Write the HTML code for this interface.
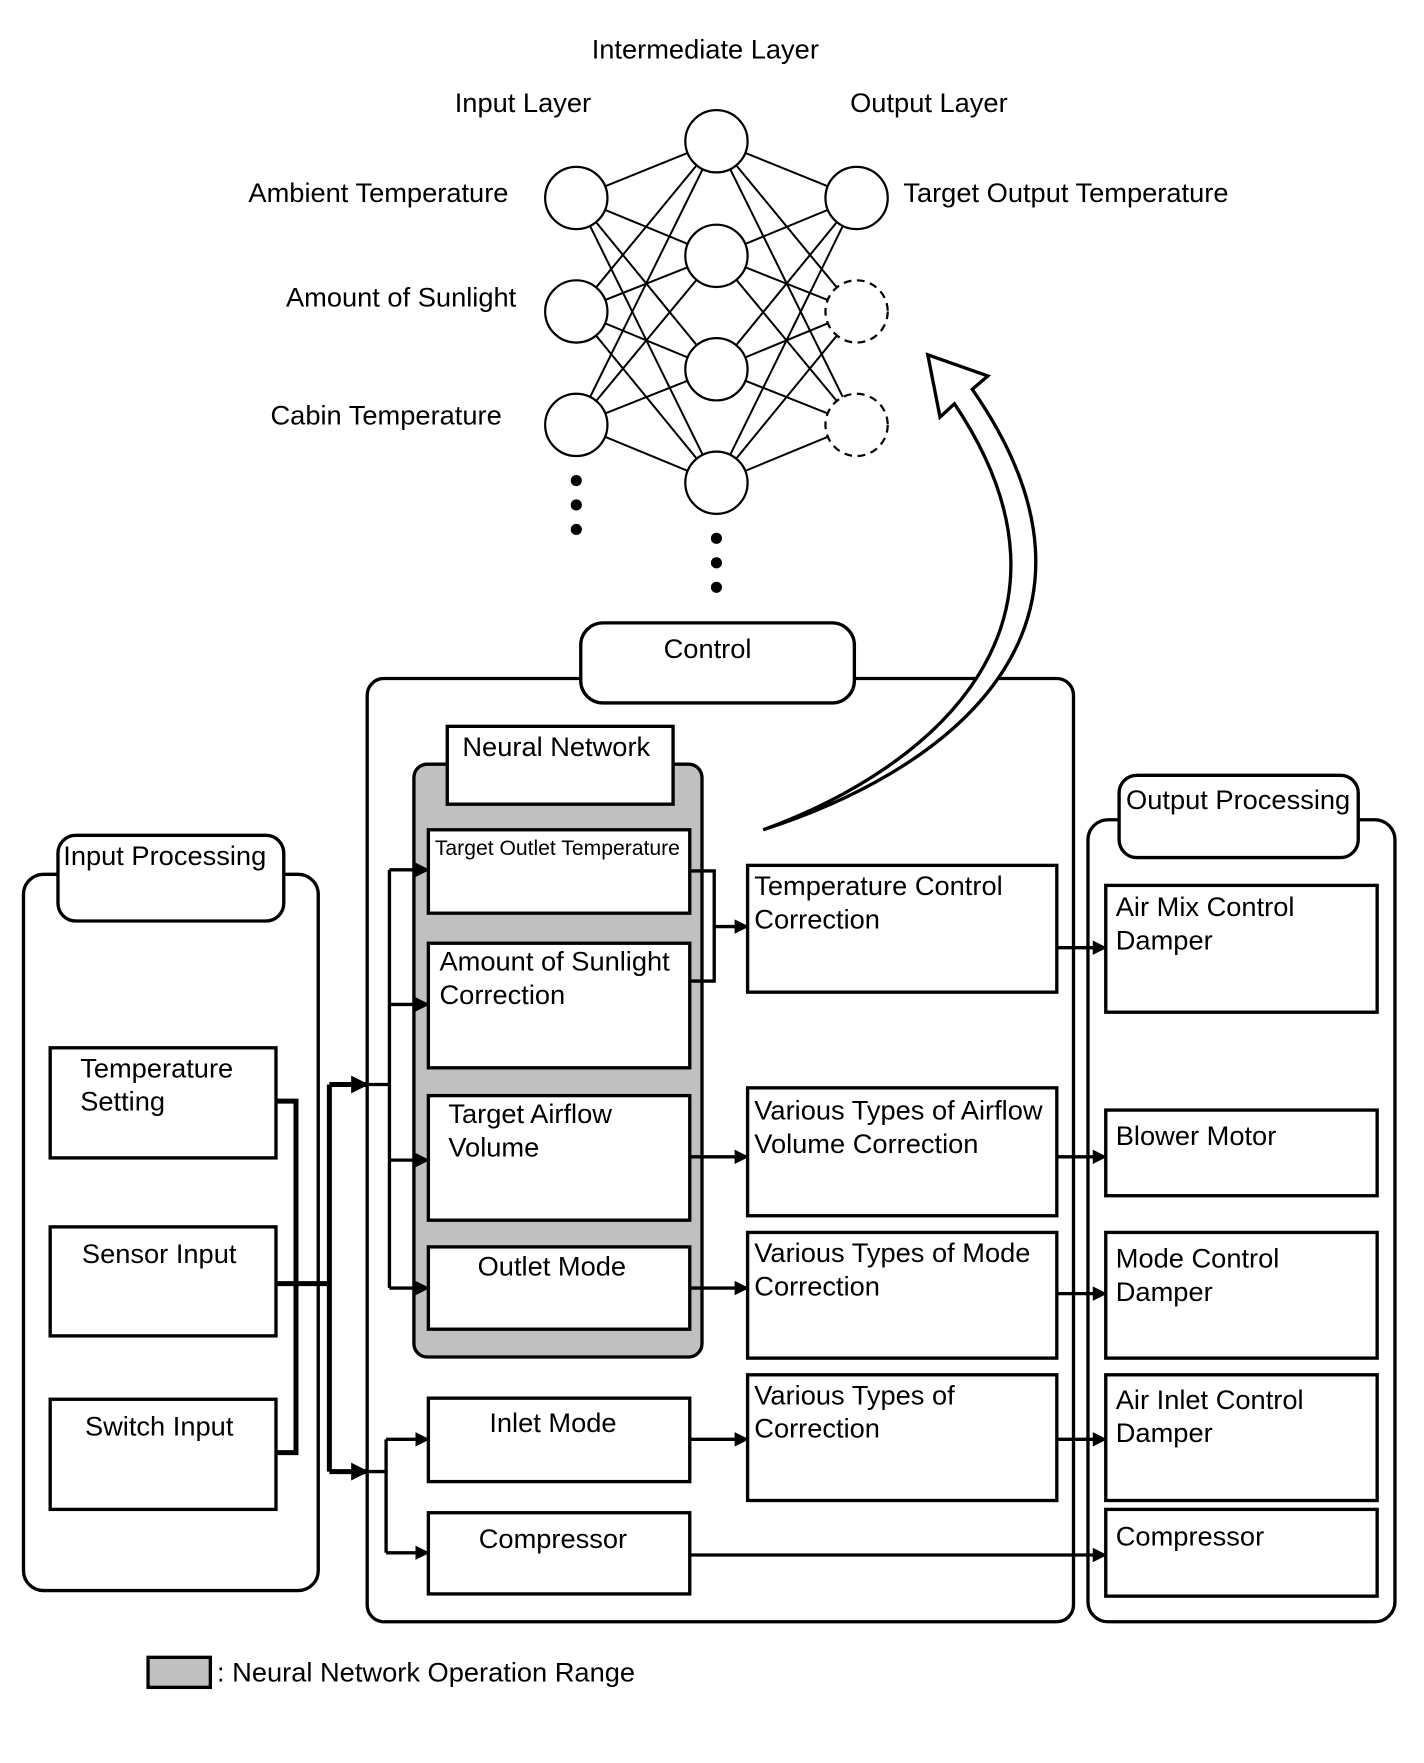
<!DOCTYPE html>
<html><head><meta charset="utf-8"><style>
html,body{margin:0;padding:0;background:#fff;}
svg{display:block;}
text{font-family:"Liberation Sans",Arial,sans-serif;font-size:24.5px;fill:#000;dominant-baseline:central;}
.b{fill:#fff;stroke:#000;stroke-width:3;}
.l{stroke:#000;stroke-width:3;fill:none;}
.t{stroke:#000;stroke-width:4.5;fill:none;}
.n{stroke:#000;stroke-width:1.8;}
</style></head><body>
<svg width="1424" height="1763" viewBox="0 0 1280 1585" xmlns="http://www.w3.org/2000/svg">
<defs>
<marker id="A" viewBox="0 0 10 10" markerWidth="16" markerHeight="16" refX="9" refY="5" orient="auto" markerUnits="userSpaceOnUse"><path d="M0,0 L10,5 L0,10 Z" fill="#000"/></marker>
<marker id="m" viewBox="0 0 10 10" markerWidth="13" markerHeight="13" refX="9" refY="5" orient="auto" markerUnits="userSpaceOnUse"><path d="M0,0 L10,5 L0,10 Z" fill="#000"/></marker>
</defs>

<g class="n">
<line x1="518" y1="178" x2="644" y2="127"/><line x1="518" y1="178" x2="644" y2="230"/><line x1="518" y1="178" x2="644" y2="332"/><line x1="518" y1="178" x2="644" y2="434"/>
<line x1="518" y1="280" x2="644" y2="127"/><line x1="518" y1="280" x2="644" y2="230"/><line x1="518" y1="280" x2="644" y2="332"/><line x1="518" y1="280" x2="644" y2="434"/>
<line x1="518" y1="382" x2="644" y2="127"/><line x1="518" y1="382" x2="644" y2="230"/><line x1="518" y1="382" x2="644" y2="332"/><line x1="518" y1="382" x2="644" y2="434"/>
<line x1="644" y1="127" x2="770" y2="178"/><line x1="644" y1="127" x2="770" y2="280"/><line x1="644" y1="127" x2="770" y2="382"/>
<line x1="644" y1="230" x2="770" y2="178"/><line x1="644" y1="230" x2="770" y2="280"/><line x1="644" y1="230" x2="770" y2="382"/>
<line x1="644" y1="332" x2="770" y2="178"/><line x1="644" y1="332" x2="770" y2="280"/><line x1="644" y1="332" x2="770" y2="382"/>
<line x1="644" y1="434" x2="770" y2="178"/><line x1="644" y1="434" x2="770" y2="280"/><line x1="644" y1="434" x2="770" y2="382"/>
</g>
<g fill="#fff" stroke="#000" stroke-width="2">
<circle cx="518" cy="178" r="28"/><circle cx="518" cy="280" r="28"/><circle cx="518" cy="382" r="28"/>
<circle cx="644" cy="127" r="28"/><circle cx="644" cy="230" r="28"/><circle cx="644" cy="332" r="28"/><circle cx="644" cy="434" r="28"/>
<circle cx="770" cy="178" r="28"/>
<circle cx="770" cy="280" r="28" stroke-dasharray="7,5"/><circle cx="770" cy="382" r="28" stroke-dasharray="7,5"/>
</g>
<g fill="#000">
<circle cx="518" cy="432" r="5"/><circle cx="518" cy="454" r="5"/><circle cx="518" cy="476" r="5"/>
<circle cx="644" cy="484" r="5"/><circle cx="644" cy="506" r="5"/><circle cx="644" cy="528" r="5"/>
</g>
<text x="634" y="44" text-anchor="middle">Intermediate Layer</text>
<text x="470" y="92" text-anchor="middle">Input Layer</text>
<text x="835" y="92" text-anchor="middle">Output Layer</text>
<text x="457" y="173" text-anchor="end">Ambient Temperature</text>
<text x="464" y="267" text-anchor="end">Amount of Sunlight</text>
<text x="451" y="373" text-anchor="end">Cabin Temperature</text>
<text x="812" y="173">Target Output Temperature</text>

<rect x="330" y="610" width="635" height="848" rx="15" class="b"/>
<rect x="522" y="560" width="246" height="72" rx="20" class="b"/>
<text x="636" y="583" text-anchor="middle">Control</text>

<path d="M686,746 C860,690 1020,560 874,350 L888,338 L834,319 L845,375 L858,363 C990,560 840,690 686,746 Z" fill="#fff" stroke="#000" stroke-width="3"/>

<rect x="372" y="687" width="259" height="533" rx="12" fill="#c0c0c0" stroke="#000" stroke-width="3"/>
<rect x="402" y="653" width="203" height="70" class="b"/>
<text x="500" y="671" text-anchor="middle">Neural Network</text>

<rect x="385" y="746" width="235" height="75" class="b"/>
<text x="501" y="763" text-anchor="middle" style="font-size:19px">Target Outlet Temperature</text>
<rect x="385" y="848" width="235" height="112" class="b"/>
<text x="395" y="864">Amount of Sunlight</text><text x="395" y="894">Correction</text>
<rect x="385" y="985" width="235" height="112" class="b"/>
<text x="403" y="1001">Target Airflow</text><text x="403" y="1031">Volume</text>
<rect x="385" y="1121" width="235" height="74" class="b"/>
<text x="496" y="1138" text-anchor="middle">Outlet Mode</text>
<rect x="385" y="1257" width="235" height="75" class="b"/>
<text x="497" y="1279" text-anchor="middle">Inlet Mode</text>
<rect x="385" y="1360" width="235" height="73" class="b"/>
<text x="497" y="1383" text-anchor="middle">Compressor</text>

<rect x="672" y="778" width="278" height="114" class="b"/>
<text x="678" y="796">Temperature Control</text><text x="678" y="826">Correction</text>
<rect x="672" y="978" width="278" height="115" class="b"/>
<text x="678" y="998">Various Types of Airflow</text><text x="678" y="1028">Volume Correction</text>
<rect x="672" y="1108" width="278" height="113" class="b"/>
<text x="678" y="1126">Various Types of Mode</text><text x="678" y="1156">Correction</text>
<rect x="672" y="1236" width="278" height="113" class="b"/>
<text x="678" y="1254">Various Types of</text><text x="678" y="1284">Correction</text>

<rect x="978" y="737" width="276" height="721" rx="18" class="b"/>
<rect x="1006" y="697" width="215" height="74" rx="16" class="b"/>
<text x="1113" y="719" text-anchor="middle">Output Processing</text>
<rect x="994" y="796" width="244" height="114" class="b"/>
<text x="1003" y="815">Air Mix Control</text><text x="1003" y="845">Damper</text>
<rect x="994" y="998" width="244" height="77" class="b"/>
<text x="1003" y="1021">Blower Motor</text>
<rect x="994" y="1108" width="244" height="113" class="b"/>
<text x="1003" y="1131">Mode Control</text><text x="1003" y="1161">Damper</text>
<rect x="994" y="1236" width="244" height="113" class="b"/>
<text x="1003" y="1258">Air Inlet Control</text><text x="1003" y="1288">Damper</text>
<rect x="994" y="1357" width="244" height="78" class="b"/>
<text x="1003" y="1381">Compressor</text>

<rect x="21" y="786" width="265" height="644" rx="18" class="b"/>
<rect x="52" y="751" width="203" height="77" rx="16" class="b"/>
<text x="148" y="769" text-anchor="middle">Input Processing</text>
<rect x="45" y="942" width="203" height="99" class="b"/>
<text x="72" y="960">Temperature</text><text x="72" y="990">Setting</text>
<rect x="45" y="1103" width="203" height="98" class="b"/>
<text x="143" y="1127" text-anchor="middle">Sensor Input</text>
<rect x="45" y="1258" width="203" height="99" class="b"/>
<text x="143" y="1282" text-anchor="middle">Switch Input</text>

<path class="t" d="M248,990 H266 V1306 H248"/>
<path class="t" d="M248,1154 H296"/>
<path class="t" d="M296,975 V1323"/>
<line class="t" x1="296" y1="975" x2="330" y2="975" marker-end="url(#A)"/>
<line class="t" x1="296" y1="1323" x2="330" y2="1323" marker-end="url(#A)"/>

<path class="l" d="M330,975 H350 M350,782 V1158 M347,1294 V1396 M330,1323 H347"/>
<line class="l" x1="350" y1="782" x2="385" y2="782" marker-end="url(#m)"/>
<line class="l" x1="350" y1="903" x2="385" y2="903" marker-end="url(#m)"/>
<line class="l" x1="350" y1="1043" x2="385" y2="1043" marker-end="url(#m)"/>
<line class="l" x1="350" y1="1158" x2="385" y2="1158" marker-end="url(#m)"/>
<line class="l" x1="347" y1="1294" x2="385" y2="1294" marker-end="url(#m)"/>
<line class="l" x1="347" y1="1396" x2="385" y2="1396" marker-end="url(#m)"/>

<path class="l" d="M620,783 H642 V882 H620"/>
<line class="l" x1="642" y1="833" x2="672" y2="833" marker-end="url(#m)"/>
<line class="l" x1="620" y1="1040" x2="672" y2="1040" marker-end="url(#m)"/>
<line class="l" x1="620" y1="1158" x2="672" y2="1158" marker-end="url(#m)"/>
<line class="l" x1="620" y1="1294" x2="672" y2="1294" marker-end="url(#m)"/>
<line class="l" x1="620" y1="1398" x2="994" y2="1398" marker-end="url(#m)"/>
<line class="l" x1="950" y1="852" x2="994" y2="852" marker-end="url(#m)"/>
<line class="l" x1="950" y1="1040" x2="994" y2="1040" marker-end="url(#m)"/>
<line class="l" x1="950" y1="1163" x2="994" y2="1163" marker-end="url(#m)"/>
<line class="l" x1="950" y1="1294" x2="994" y2="1294" marker-end="url(#m)"/>

<rect x="133" y="1490" width="56" height="27" fill="#c0c0c0" stroke="#000" stroke-width="3"/>
<text x="195" y="1503">: Neural Network Operation Range</text>
</svg>
</body></html>
